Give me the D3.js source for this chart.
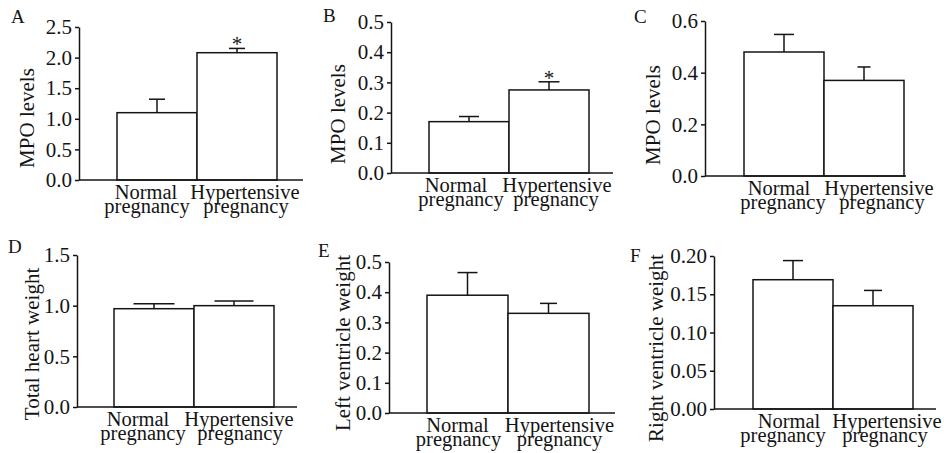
<!DOCTYPE html>
<html>
<head>
<meta charset="utf-8">
<title>MPO levels and heart weight</title>
<script src="https://cdn.jsdelivr.net/npm/d3@7"></script>
<style>
  * { margin: 0; padding: 0; }
  body { background: #fff; }
  svg text { font-family: "Liberation Serif", "Times New Roman", serif; }
  .domain, .tick line { stroke: #141414; stroke-width: 1.5; }
  .tick text { font-size: 21px; fill: #141414; font-family: "Liberation Serif", serif; }
  .bar { fill: #fff; stroke: #141414; stroke-width: 1.5; }
  .err { stroke: #141414; stroke-width: 1.5; }
  .lab { font-size: 21px; fill: #141414; }
  .xlab { font-size: 20.5px; fill: #141414; }
</style>
</head>
<body>
<svg id="chart" width="944" height="453"></svg>
<script>
// groups shared by every panel
var groups = ["Normal pregnancy", "Hypertensive pregnancy"];

// values (mean and error bar length)
var mpoA = [1.10, 2.08],  mpoAErr = [0.22, 0.07];
var mpoB = [0.170, 0.275], mpoBErr = [0.017, 0.027];
var mpoC = [0.48, 0.37],  mpoCErr = [0.068, 0.052];
var heartD = [0.97, 1.00], heartDErr = [0.05, 0.046];
var lvE = [0.39, 0.33],   lvEErr = [0.075, 0.033];
var rvF = [0.169, 0.135], rvFErr = [0.025, 0.020];
var sigAB = ["", "*"], sigNone = ["", ""];

// tick labels per panel
var ticksA = [0, 0.5, 1.0, 1.5, 2.0, 2.5];
var ticksB = [0, 0.1, 0.2, 0.3, 0.4, 0.5];
var ticksC = [0, 0.2, 0.4, 0.6];
var ticksD = [0, 0.5, 1.0, 1.5];
var ticksE = [0, 0.1, 0.2, 0.3, 0.4, 0.5];
var ticksF = [0, 0.05, 0.10, 0.15, 0.20];

// x label words
var xWords = [["Normal", "pregnancy"], ["Hypertensive", "pregnancy"]];

// layout of each panel (pixels); off = label shifts from bar centres [line1, line2] per bar
var panels = [
  {letter: "A", lx: 11, ly: 23, title: "MPO levels", tx: 27, ty: 118, ax: 79, top: 27, bottom: 180, xEnd: 303, b0: 117, bw: 80,
   mean: mpoA, err: mpoAErr, sig: sigAB, ticks: ticksA, fmt: ".1f", cap: [16, 16], off: [[-11, -10], [8, 9]]},
  {letter: "B", lx: 323, ly: 22, title: "MPO levels", tx: 338, ty: 114, ax: 391, top: 22, bottom: 173, xEnd: 613, b0: 429, bw: 80,
   mean: mpoB, err: mpoBErr, sig: sigAB, ticks: ticksB, fmt: ".1f", cap: [20, 21], off: [[-13, -8], [8, 7]]},
  {letter: "C", lx: 634, ly: 23, title: "MPO levels", tx: 653, ty: 115, ax: 705, top: 21, bottom: 176, xEnd: 906, b0: 744, bw: 80,
   mean: mpoC, err: mpoCErr, sig: sigNone, ticks: ticksC, fmt: ".1f", cap: [20, 13], off: [[-5, -1], [15, 18]]},
  {letter: "D", lx: 8, ly: 253, title: "Total heart weight", tx: 32, ty: 344, ax: 77, top: 255, bottom: 407, xEnd: 297, b0: 114, bw: 80,
   mean: heartD, err: heartDErr, sig: sigNone, ticks: ticksD, fmt: ".1f", cap: [41, 39], off: [[-16, -11], [5, 6]]},
  {letter: "E", lx: 318, ly: 257, title: "Left ventricle weight", tx: 343, ty: 343, ax: 389, top: 262, bottom: 413, xEnd: 615, b0: 427, bw: 81,
   mean: lvE, err: lvEErr, sig: sigNone, ticks: ticksE, fmt: ".1f", cap: [20, 17], off: [[-10, -9], [11, 11]]},
  {letter: "F", lx: 630, ly: 262, title: "Right ventricle weight", tx: 656, ty: 348, ax: 714, top: 256, bottom: 409, xEnd: 936, b0: 753, bw: 80,
   mean: rvF, err: rvFErr, sig: sigNone, ticks: ticksF, fmt: ".2f", cap: [20, 18], off: [[-4, -10], [14, 12]]}
];

var svg = d3.select("#chart");

panels.forEach(function (p) {
  var g = svg.append("g");
  var y = d3.scaleLinear()
    .domain([0, p.ticks[p.ticks.length - 1]])
    .range([p.bottom, p.top]);
  var x = d3.scaleBand()
    .domain(groups)
    .range([p.b0, p.b0 + 2 * p.bw])
    .padding(0);
  var rows = groups.map(function (k, i) {
    return {key: k, mean: p.mean[i], err: p.err[i], sig: p.sig[i], cap: p.cap[i], word: xWords[i], off: p.off[i]};
  });
  var cx = function (d) { return x(d.key) + x.bandwidth() / 2; };

  // bars
  g.selectAll(".bar").data(rows).enter().append("rect")
    .attr("class", "bar")
    .attr("x", function (d) { return x(d.key); })
    .attr("width", x.bandwidth())
    .attr("y", function (d) { return y(d.mean); })
    .attr("height", function (d) { return y(0) - y(d.mean); });

  // error bars
  var e = g.selectAll(".eb").data(rows).enter().append("g").attr("class", "eb");
  e.append("line").attr("class", "err")
    .attr("x1", cx).attr("x2", cx)
    .attr("y1", function (d) { return y(d.mean); })
    .attr("y2", function (d) { return y(d.mean + d.err); });
  e.append("line").attr("class", "err")
    .attr("x1", function (d) { return cx(d) - d.cap / 2; })
    .attr("x2", function (d) { return cx(d) + d.cap / 2; })
    .attr("y1", function (d) { return y(d.mean + d.err); })
    .attr("y2", function (d) { return y(d.mean + d.err); });
  e.append("text").attr("class", "lab")
    .attr("text-anchor", "middle")
    .attr("x", cx)
    .attr("y", function (d) { return y(d.mean + d.err) + 3; })
    .text(function (d) { return d.sig; });

  // y axis
  g.append("g")
    .attr("transform", "translate(" + p.ax + ",0)")
    .call(d3.axisLeft(y).tickValues(p.ticks).tickFormat(d3.format(p.fmt))
      .tickSize(4).tickSizeOuter(0).tickPadding(3));

  // x axis baseline
  g.append("line")
    .attr("x1", p.ax).attr("x2", p.xEnd)
    .attr("y1", y(0)).attr("y2", y(0))
    .attr("stroke", "#141414").attr("stroke-width", 1.5);

  // x labels, two lines
  var xl = g.selectAll(".xl").data(rows).enter().append("text")
    .attr("class", "xlab")
    .attr("text-anchor", "middle");
  xl.append("tspan")
    .attr("x", function (d) { return cx(d) + d.off[0]; })
    .attr("y", y(0) + 19)
    .text(function (d) { return d.word[0]; });
  xl.append("tspan")
    .attr("x", function (d) { return cx(d) + d.off[1]; })
    .attr("y", y(0) + 33)
    .text(function (d) { return d.word[1]; });

  // y title
  g.append("text").attr("class", "lab")
    .attr("text-anchor", "middle")
    .attr("dominant-baseline", "central")
    .attr("transform", "translate(" + p.tx + "," + p.ty + ") rotate(-90)")
    .text(p.title);

  // panel letter
  g.append("text").attr("class", "lab")
    .attr("x", p.lx).attr("y", p.ly)
    .style("font-size", "19px")
    .text(p.letter);
});
</script>
</body>
</html>
